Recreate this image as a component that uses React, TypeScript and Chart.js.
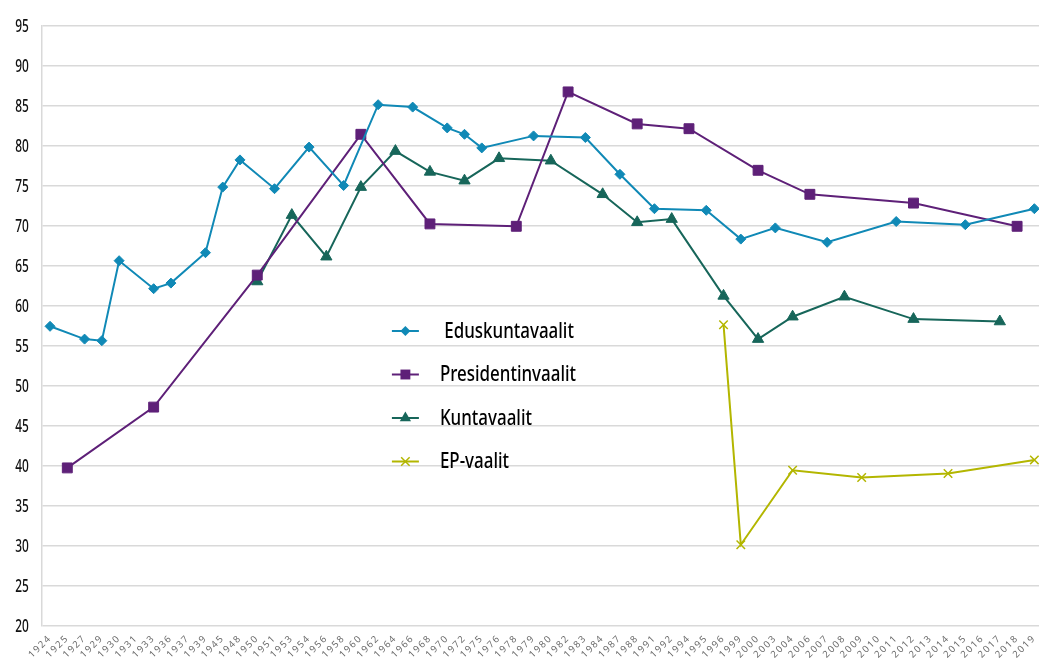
import React, { useEffect, useRef } from 'react';
import { Chart, registerables } from 'chart.js';

Chart.register(...registerables);

const yearLabels = [
  '1924', '1925', '1927', '1929', '1930', '1931', '1933', '1936', '1937', '1939',
  '1945', '1948', '1950', '1951', '1953', '1954', '1956', '1958', '1960', '1962',
  '1964', '1966', '1968', '1970', '1972', '1975', '1976', '1978', '1979', '1980',
  '1982', '1983', '1984', '1987', '1988', '1991', '1992', '1994', '1995', '1996',
  '1999', '2000', '2003', '2004', '2006', '2007', '2008', '2009', '2010', '2011',
  '2012', '2013', '2014', '2015', '2016', '2017', '2018', '2019',
];

const eduskuntaYears = [1924, 1927, 1929, 1930, 1933, 1936, 1939, 1945, 1948, 1951, 1954, 1958, 1962, 1966, 1970, 1972, 1975, 1979, 1983, 1987, 1991, 1995, 1999, 2003, 2007, 2011, 2015, 2019];
const eduskuntaValues = [57.4, 55.8, 55.6, 65.6, 62.1, 62.8, 66.6, 74.8, 78.2, 74.6, 79.8, 75.0, 85.1, 84.8, 82.2, 81.4, 79.7, 81.2, 81.0, 76.4, 72.1, 71.9, 68.3, 69.7, 67.9, 70.5, 70.1, 72.1];

const presidenttiYears = [1925, 1933, 1950, 1960, 1968, 1978, 1982, 1988, 1994, 2000, 2006, 2012, 2018];
const presidenttiValues = [39.7, 47.3, 63.8, 81.4, 70.2, 69.9, 86.7, 82.7, 82.1, 76.9, 73.9, 72.8, 69.9];

const kuntaYears = [1950, 1953, 1956, 1960, 1964, 1968, 1972, 1976, 1980, 1984, 1988, 1992, 1996, 2000, 2004, 2008, 2012, 2017];
const kuntaValues = [63.0, 71.3, 66.1, 74.8, 79.3, 76.7, 75.6, 78.4, 78.1, 73.9, 70.4, 70.8, 61.2, 55.8, 58.6, 61.1, 58.3, 58.0];

const epYears = [1996, 1999, 2004, 2009, 2014, 2019];
const epValues = [57.6, 30.1, 39.4, 38.5, 39.0, 40.7];

const seriesNames = [' Eduskuntavaalit', 'Presidentinvaalit', 'Kuntavaalit', 'EP-vaalit'];
const seriesColors = ['#1089b6', '#5e2078', '#17665a', '#b3b600'];

const yMin = 20;
const yMax = 95;
const yStep = 5;

const condensedFamily = '"Noto Sans", sans-serif';

function toPoints(ys: number[], vs: number[]) {
  return ys.map((y, i) => ({ x: String(y), y: vs[i] }));
}

function drawMarker(ctx: CanvasRenderingContext2D, style: string, x: number, y: number, r: number, color: string) {
  ctx.save();
  ctx.fillStyle = color;
  ctx.strokeStyle = color;
  ctx.beginPath();
  if (style === 'rectRot') {
    ctx.moveTo(x, y - r);
    ctx.lineTo(x + r, y);
    ctx.lineTo(x, y + r);
    ctx.lineTo(x - r, y);
    ctx.closePath();
    ctx.fill();
  } else if (style === 'rect') {
    const s = r * Math.SQRT1_2;
    ctx.rect(x - s, y - s, 2 * s, 2 * s);
    ctx.fill();
  } else if (style === 'triangle') {
    for (let k = 0; k < 3; k++) {
      const a = (k * 2 * Math.PI) / 3;
      const px = x + Math.sin(a) * r;
      const py = y - Math.cos(a) * r;
      if (k === 0) ctx.moveTo(px, py);
      else ctx.lineTo(px, py);
    }
    ctx.closePath();
    ctx.fill();
  } else if (style === 'crossRot') {
    const s = r * Math.SQRT1_2;
    ctx.lineWidth = 1.5;
    ctx.moveTo(x - s, y - s);
    ctx.lineTo(x + s, y + s);
    ctx.moveTo(x - s, y + s);
    ctx.lineTo(x + s, y - s);
    ctx.stroke();
  }
  ctx.restore();
}

const insideLegend = {
  id: 'insideLegend',
  afterDraw(chart: any) {
    const { ctx, chartArea } = chart;
    const x0 = chartArea.left + 350.5;
    chart.data.datasets.forEach((ds: any, i: number) => {
      const y = chartArea.top + 305.5 + i * 43.5;
      ctx.save();
      ctx.strokeStyle = ds.borderColor;
      ctx.lineWidth = 2;
      ctx.beginPath();
      ctx.moveTo(x0, y);
      ctx.lineTo(x0 + 27, y);
      ctx.stroke();
      drawMarker(ctx, ds.pointStyle, x0 + 13.5, y, ds.pointRadius, ds.borderColor);
      ctx.font = '500 22px ' + condensedFamily;
      ctx.fillStyle = '#000000';
      ctx.textBaseline = 'alphabetic';
      ctx.textAlign = 'left';
      ctx.translate(x0 + 48, y + 6.5);
      ctx.scale(0.77, 1);
      ctx.fillText(ds.label, 0, 0);
      ctx.restore();
    });
  },
};

const condensedYLabels = {
  id: 'condensedYLabels',
  afterDraw(chart: any) {
    const { ctx } = chart;
    const scale = chart.scales.y;
    ctx.save();
    ctx.font = '500 18px ' + condensedFamily;
    ctx.fillStyle = '#111111';
    ctx.textAlign = 'right';
    ctx.textBaseline = 'alphabetic';
    scale.ticks.forEach((t: any, i: number) => {
      const y = scale.getPixelForTick(i);
      ctx.save();
      ctx.translate(scale.right - 12.5, y + 6.3);
      ctx.scale(0.66, 1);
      ctx.fillText(String(t.value), 0, 0);
      ctx.restore();
    });
    ctx.restore();
  },
};

const xLabelSpacing = {
  id: 'xLabelSpacing',
  beforeDraw(chart: any) {
    (chart.ctx as any).letterSpacing = '1.6px';
  },
  beforeDatasetsDraw(chart: any) {
    (chart.ctx as any).letterSpacing = '0px';
  },
};

export default function App() {
  const canvasRef = useRef<HTMLCanvasElement | null>(null);

  useEffect(() => {
    if (!canvasRef.current) return;
    const styles = ['rectRot', 'rect', 'triangle', 'crossRot'];
    const radii = [5, 7, 6.5, 6];
    const seriesData = [
      toPoints(eduskuntaYears, eduskuntaValues),
      toPoints(presidenttiYears, presidenttiValues),
      toPoints(kuntaYears, kuntaValues),
      toPoints(epYears, epValues),
    ];
    const chart = new Chart(canvasRef.current, {
      type: 'line',
      data: {
        labels: yearLabels,
        datasets: seriesData.map((d, i) => ({
          label: seriesNames[i],
          data: d,
          borderColor: seriesColors[i],
          backgroundColor: seriesColors[i],
          pointBackgroundColor: seriesColors[i],
          pointBorderColor: seriesColors[i],
          pointStyle: styles[i],
          pointRadius: radii[i],
          pointBorderWidth: i === 3 ? 1.5 : 1,
          borderWidth: 2,
          spanGaps: true,
          tension: 0,
          fill: false,
        })),
      },
      options: {
        responsive: false,
        animation: false,
        devicePixelRatio: 1,
        layout: { padding: { top: 25.5, right: 2, bottom: 0, left: 0 } },
        plugins: {
          legend: { display: false },
          tooltip: { enabled: false },
        },
        scales: {
          x: {
            type: 'category',
            offset: true,
            grid: { display: false, drawTicks: false },
            border: { display: false },
            ticks: {
              autoSkip: false,
              maxRotation: 45,
              minRotation: 45,
              padding: 7,
              color: '#6a6a6a',
              font: { family: '"Noto Sans", sans-serif', size: 9.5 },
            },
            afterFit(scale: any) {
              scale.height = 40.5;
              scale.paddingLeft = 0;
              scale.paddingRight = 0;
            },
          },
          y: {
            min: yMin,
            max: yMax,
            grid: { color: '#d9d9d9', lineWidth: 1.5, drawTicks: false },
            border: { display: true, color: '#d9d9d9', width: 1.5 },
            ticks: {
              stepSize: yStep,
              display: false,
            },
            afterFit(scale: any) {
              scale.width = 41.4;
            },
          },
        },
      },
      plugins: [xLabelSpacing, condensedYLabels, insideLegend],
    } as any);
    return () => chart.destroy();
  }, []);

  return (
    <div style={{ position: 'fixed', left: 0, top: 0, width: 1039, height: 666, overflow: 'hidden', background: '#ffffff' }}>
      <canvas ref={canvasRef} width={1051} height={666} style={{ display: 'block' }} />
    </div>
  );
}
